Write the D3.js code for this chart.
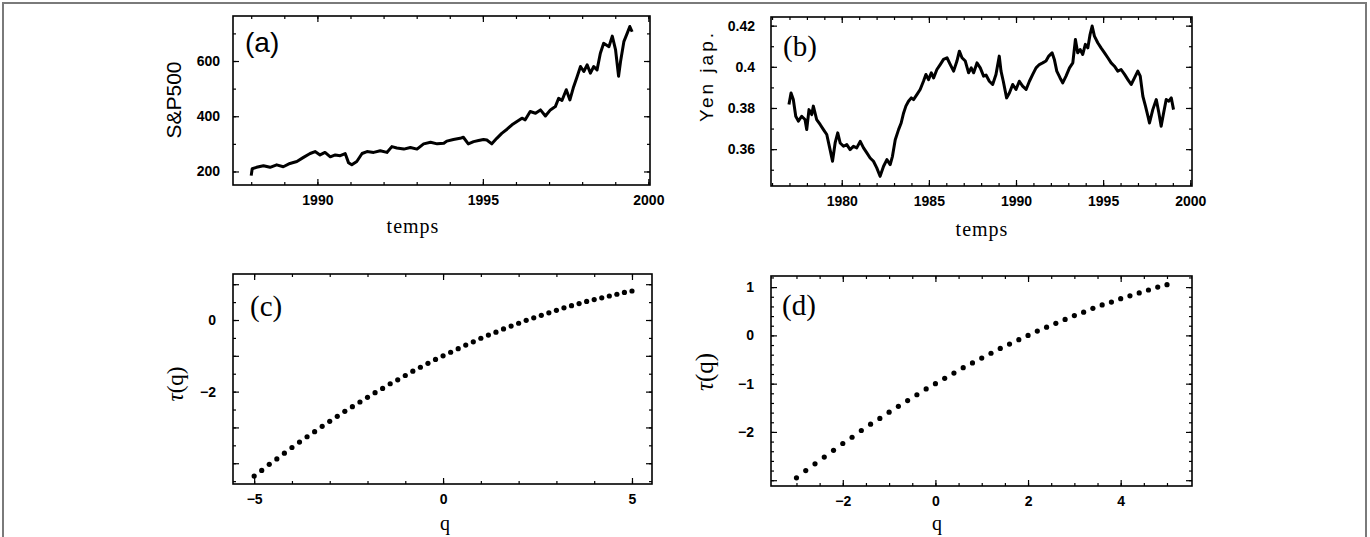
<!DOCTYPE html>
<html lang="fr">
<head>
	<meta charset="utf-8">
	<title>S&P500, Yen et tau(q)</title>
	<script src="https://cdn.jsdelivr.net/npm/d3@7/dist/d3.min.js"></script>
	<style>
		body { margin: 0; background: white; }
		svg { display: block; }
		.tick text { font-family: "Liberation Sans", Arial, sans-serif; font-weight: bold; font-size: 14px; fill: black; }
		.tick line { stroke: black; stroke-width: 1.2; }
		.serif { font-family: "Liberation Serif", "Times New Roman", serif; }
		.sans { font-family: "Liberation Sans", Arial, sans-serif; }
	</style>
</head>
<body>
<svg id="fig" width="1370" height="537"></svg>
<script>
// S&P500 (panel a)
var spYears = [1988.0, 1988.03, 1988.16, 1988.37, 1988.57, 1988.77, 1988.97, 1989.17, 1989.38, 1989.58, 1989.78, 1989.93,
	1990.08, 1990.23, 1990.39, 1990.54, 1990.69, 1990.84, 1990.94, 1991.04, 1991.19, 1991.35, 1991.5, 1991.7, 1991.9,
	1992.1, 1992.25, 1992.4, 1992.61, 1992.81, 1993.01, 1993.21, 1993.42, 1993.62, 1993.82, 1993.91, 1994.11, 1994.31,
	1994.41, 1994.56, 1994.72, 1994.87, 1995.02, 1995.12, 1995.27, 1995.42, 1995.57, 1995.73, 1995.88, 1996.03, 1996.18,
	1996.28, 1996.43, 1996.59, 1996.74, 1996.89, 1997.04, 1997.19, 1997.29, 1997.39, 1997.52, 1997.63, 1997.73, 1997.85,
	1997.95, 1998.05, 1998.15, 1998.25, 1998.35, 1998.45, 1998.55, 1998.65, 1998.81, 1998.91, 1999.01, 1999.1, 1999.16,
	1999.26, 1999.36, 1999.44, 1999.51]
var spValues = [185, 210, 215, 221, 215, 224, 217, 229, 236, 251, 265, 272,
	260, 269, 253, 260, 257, 265, 232, 224, 236, 265, 272, 269, 275,
	269, 290, 285, 281, 287, 281, 300, 306, 300, 302, 310, 316, 320,
	324, 300, 308, 312, 316, 314, 300, 320, 338, 353, 369, 381, 393,
	387, 417, 411, 423, 401, 423, 435, 465, 457, 496, 459, 502, 544,
	580, 562, 586, 556, 580, 568, 628, 664, 652, 690, 640, 545, 598,
	670, 700, 725, 706]

// Yen jap. (panel b)
var yenYears = [1976.97, 1977.09, 1977.22, 1977.36, 1977.51, 1977.7, 1977.89, 1977.99, 1978.12, 1978.28, 1978.37, 1978.56,
	1978.76, 1978.95, 1979.14, 1979.33, 1979.47, 1979.62, 1979.77, 1979.91, 1980.1, 1980.29, 1980.48, 1980.67, 1980.86,
	1981.06, 1981.25, 1981.44, 1981.63, 1981.82, 1982.01, 1982.2, 1982.4, 1982.59, 1982.78, 1982.91, 1983.07, 1983.26,
	1983.41, 1983.55, 1983.68, 1983.83, 1983.99, 1984.12, 1984.31, 1984.5, 1984.69, 1984.83, 1984.98, 1985.14, 1985.27,
	1985.46, 1985.65, 1985.84, 1986.04, 1986.23, 1986.42, 1986.61, 1986.75, 1986.9, 1987.09, 1987.28, 1987.43, 1987.57,
	1987.76, 1987.95, 1988.14, 1988.28, 1988.47, 1988.66, 1988.85, 1989.04, 1989.14, 1989.27, 1989.46, 1989.62, 1989.81,
	1990.0, 1990.19, 1990.38, 1990.58, 1990.77, 1990.96, 1991.15, 1991.34, 1991.53, 1991.72, 1991.88, 1992.07, 1992.2,
	1992.34, 1992.53, 1992.68, 1992.87, 1993.07, 1993.26, 1993.41, 1993.54, 1993.68, 1993.83, 1993.98, 1994.12, 1994.25,
	1994.37, 1994.5, 1994.69, 1994.88, 1995.08, 1995.27, 1995.46, 1995.65, 1995.84, 1996.03, 1996.23, 1996.42, 1996.61,
	1996.8, 1996.99, 1997.13, 1997.28, 1997.43, 1997.57, 1997.66, 1997.85, 1998.05, 1998.2, 1998.33, 1998.47, 1998.62,
	1998.77, 1998.91, 1999.04]
var yenValues = [0.3817, 0.3873, 0.3841, 0.376, 0.3736, 0.376, 0.3744, 0.3695, 0.3792, 0.3768, 0.3809, 0.3744,
	0.372, 0.3695, 0.3671, 0.3598, 0.3541, 0.363, 0.3679, 0.363, 0.3614, 0.3622, 0.3598, 0.3614, 0.3606,
	0.3638, 0.3606, 0.3582, 0.3557, 0.3541, 0.3509, 0.3468, 0.3517, 0.3549, 0.3525, 0.3565, 0.3646, 0.3695,
	0.3727, 0.3776, 0.3809, 0.3833, 0.3849, 0.3841, 0.3865, 0.389, 0.393, 0.3963, 0.3938, 0.3971, 0.3946,
	0.3987, 0.4011, 0.4036, 0.4044, 0.4011, 0.3979, 0.4028, 0.4076, 0.4044, 0.4028, 0.3971, 0.3995, 0.3971,
	0.4019, 0.3995, 0.3955, 0.396, 0.393, 0.3914, 0.3963, 0.4052, 0.3979, 0.393, 0.3849, 0.3873, 0.3914,
	0.389, 0.393, 0.3906, 0.389, 0.393, 0.3963, 0.3995, 0.4011, 0.4019, 0.4028, 0.4052, 0.4068, 0.4036,
	0.3979, 0.3946, 0.3922, 0.3955, 0.3995, 0.4019, 0.4133, 0.4068, 0.4084, 0.406, 0.4109, 0.4092, 0.4157,
	0.4198, 0.4149, 0.4117, 0.4092, 0.4068, 0.4044, 0.4019, 0.4003, 0.3979, 0.3987, 0.3963, 0.3938, 0.3914,
	0.3946, 0.3979, 0.3955, 0.3857, 0.3809, 0.376, 0.3727, 0.3792, 0.3841, 0.3776, 0.3711, 0.3776, 0.3841,
	0.3833, 0.3849, 0.3792]

// tau(q), panel c (S&P500)
var qC = [-5, -4.8, -4.6, -4.4, -4.2, -4, -3.8, -3.6, -3.4, -3.2, -3, -2.8, -2.6, -2.4, -2.2, -2, -1.8, -1.6, -1.4, -1.2,
	-1, -0.8, -0.6, -0.4, -0.2, 0, 0.2, 0.4, 0.6, 0.8, 1, 1.2, 1.4, 1.6, 1.8, 2, 2.2, 2.4, 2.6, 2.8, 3, 3.2, 3.4, 3.6,
	3.8, 4, 4.2, 4.4, 4.6, 4.8, 5]
var tauC = [-4.36, -4.20, -4.03, -3.88, -3.72, -3.56, -3.41, -3.26, -3.12, -2.97, -2.83, -2.69, -2.55, -2.42, -2.29,
	-2.16, -2.03, -1.91, -1.78, -1.67, -1.55, -1.43, -1.32, -1.21, -1.10, -1.00, -0.90, -0.80, -0.70, -0.61, -0.51,
	-0.42, -0.34, -0.25, -0.17, -0.09, -0.01, 0.06, 0.13, 0.20, 0.27, 0.34, 0.40, 0.46, 0.52, 0.57, 0.62, 0.67, 0.72,
	0.77, 0.81]

// tau(q), panel d (Yen)
var qD = [-3, -2.8, -2.6, -2.4, -2.2, -2, -1.8, -1.6, -1.4, -1.2, -1, -0.8, -0.6, -0.4, -0.2, 0, 0.2, 0.4, 0.6, 0.8,
	1, 1.2, 1.4, 1.6, 1.8, 2, 2.2, 2.4, 2.6, 2.8, 3, 3.2, 3.4, 3.6, 3.8, 4, 4.2, 4.4, 4.6, 4.8, 5]
var tauD = [-2.95, -2.80, -2.66, -2.52, -2.38, -2.24, -2.11, -1.97, -1.84, -1.72, -1.59, -1.47, -1.35, -1.23, -1.11,
	-1.00, -0.89, -0.78, -0.67, -0.57, -0.47, -0.37, -0.27, -0.18, -0.09, 0.00, 0.09, 0.17, 0.25, 0.33, 0.41, 0.48,
	0.56, 0.63, 0.69, 0.76, 0.82, 0.88, 0.94, 1.00, 1.05]

var svg = d3.select("#fig")

// grey frame round the whole figure
svg.append("rect").attr("x", 3).attr("y", 3).attr("width", 1363).attr("height", 560)
	.attr("fill", "none").attr("stroke", "#7a7a7a").attr("stroke-width", 2)

// one framed panel with ticks on all four sides
function panel(p) {
	var x = d3.scaleLinear().domain(p.xDom).range([p.x0, p.x1])
	var y = d3.scaleLinear().domain(p.yDom).range([p.y1, p.y0])
	var g = svg.append("g")

	function axis(maker, scale, vals, size, fmt, pos, isX, pad) {
		var a = maker(scale).tickValues(vals).tickSize(size).tickPadding(pad || 10)
		a.tickFormat(fmt ? fmt : function() { return "" })
		var ag = g.append("g").attr("transform", isX ? "translate(0," + pos + ")" : "translate(" + pos + ",0)").call(a)
		ag.select(".domain").remove()
		return ag
	}
	var xm = p.xMinor, ym = p.yMinor
	axis(d3.axisBottom, x, p.xMajor, -6, p.xFmt, p.y1, true, 10)
	axis(d3.axisBottom, x, xm, -3, null, p.y1, true)
	axis(d3.axisTop, x, p.xMajor, -6, null, p.y0, true)
	axis(d3.axisTop, x, xm, -3, null, p.y0, true)
	axis(d3.axisLeft, y, p.yMajor, -6, null, p.x0, false)
	axis(d3.axisLeft, y, ym, -3, null, p.x0, false)
	axis(d3.axisRight, y, p.yMajor, -6, null, p.x1, false)
	axis(d3.axisRight, y, ym, -3, null, p.x1, false)
	// labels of the y axis (sometimes only a subset)
	axis(d3.axisLeft, y, p.yLabelVals || p.yMajor, 0, p.yFmt, p.x0, false, p.pad)

	g.append("rect").attr("x", p.x0).attr("y", p.y0).attr("width", p.x1 - p.x0).attr("height", p.y1 - p.y0)
		.attr("fill", "none").attr("stroke", "black").attr("stroke-width", 1.6)
	return {x: x, y: y, g: g}
}

function range(a, b, s) {
	var out = []
	for (var i = 0; a + i * s <= b + 1e-9; i++) out.push(+(a + i * s).toFixed(4))
	return out
}

function tauLabel(x, y, size) {
	svg.append("text").attr("class", "serif").attr("transform", "translate(" + x + "," + y + ") rotate(-90)")
		.attr("text-anchor", "middle").attr("font-size", size)
		.call(function(t) {
			t.append("tspan").attr("font-style", "italic").text("τ")
			t.append("tspan").text("(q)")
		})
}

// ---- (a) S&P500
var pa = panel({x0: 233, x1: 650, y0: 16, y1: 185, xDom: [1987.45, 2000.05], yDom: [151, 763],
	xMajor: [1990, 1995, 2000], xMinor: range(1988, 2000, 1), yMajor: [200, 400, 600], yMinor: range(200, 700, 100),
	xFmt: d3.format("d"), yFmt: d3.format("d"), pad: 13})
pa.g.append("path")
	.datum(spYears.map(function(d, i) { return [d, spValues[i]] }))
	.attr("fill", "none").attr("stroke", "black").attr("stroke-width", 3).attr("stroke-linejoin", "round")
	.attr("d", d3.line().x(function(d) { return pa.x(d[0]) }).y(function(d) { return pa.y(d[1]) }))
svg.append("text").attr("class", "sans").attr("x", 245).attr("y", 52).attr("font-size", 28).text("(a)")
svg.append("text").attr("class", "sans").attr("transform", "translate(181,100) rotate(-90)")
	.attr("text-anchor", "middle").attr("font-size", 21).text("S&P500")
svg.append("text").attr("class", "serif").attr("x", 413).attr("y", 233).attr("text-anchor", "middle")
	.attr("font-size", 20).attr("letter-spacing", 1).text("temps")

// ---- (b) Yen
var pb = panel({x0: 771, x1: 1192, y0: 17, y1: 186, xDom: [1975.94, 2000.1], yDom: [0.3421, 0.4242],
	xMajor: [1980, 1985, 1990, 1995, 2000], xMinor: range(1976, 2000, 1), yMajor: [0.36, 0.38, 0.40, 0.42],
	yMinor: range(0.35, 0.42, 0.01), xFmt: d3.format("d"), yFmt: function(d) { return d == 0.4 ? "0.4" : d3.format(".2f")(d) }, pad: 16})
pb.g.append("path")
	.datum(yenYears.map(function(d, i) { return [d, yenValues[i]] }))
	.attr("fill", "none").attr("stroke", "black").attr("stroke-width", 3).attr("stroke-linejoin", "round")
	.attr("d", d3.line().x(function(d) { return pb.x(d[0]) }).y(function(d) { return pb.y(d[1]) }))
svg.append("text").attr("class", "serif").attr("x", 783).attr("y", 56).attr("font-size", 29).text("(b)")
svg.append("text").attr("class", "sans").attr("transform", "translate(713,76) rotate(-90)")
	.attr("text-anchor", "middle").attr("font-size", 19).attr("letter-spacing", 3).text("Yen jap.")
svg.append("text").attr("class", "serif").attr("x", 982).attr("y", 236).attr("text-anchor", "middle")
	.attr("font-size", 20).attr("letter-spacing", 1).text("temps")

// ---- (c) tau(q) S&P500
var pc = panel({x0: 233, x1: 652, y0: 274, y1: 484, xDom: [-5.56, 5.53], yDom: [-4.58, 1.285],
	xMajor: [-5, 0, 5], xMinor: range(-5, 5, 1), yMajor: [-4, -3, -2, -1, 0, 1], yMinor: range(-4.5, 1, 0.5),
	yLabelVals: [-2, 0], xFmt: d3.format("d"), yFmt: d3.format("d"), pad: 17})
pc.g.selectAll("circle").data(qC).enter().append("circle")
	.attr("cx", function(d) { return pc.x(d) }).attr("cy", function(d, i) { return pc.y(tauC[i]) })
	.attr("r", 2.6).attr("fill", "black")
svg.append("text").attr("class", "serif").attr("x", 250).attr("y", 316).attr("font-size", 29).text("(c)")
tauLabel(183, 384, 23)
svg.append("text").attr("class", "serif").attr("x", 445).attr("y", 530).attr("text-anchor", "middle")
	.attr("font-size", 20).text("q")

// ---- (d) tau(q) Yen
var pd = panel({x0: 771, x1: 1192, y0: 276, y1: 486, xDom: [-3.55, 5.54], yDom: [-3.12, 1.23],
	xMajor: [-2, 0, 2, 4], xMinor: range(-3, 5, 0.5), yMajor: [-3, -2, -1, 0, 1], yMinor: range(-3, 1.2, 0.2),
	yLabelVals: [-2, -1, 0, 1], xFmt: d3.format("d"), yFmt: d3.format("d"), pad: 17})
pd.g.selectAll("circle").data(qD).enter().append("circle")
	.attr("cx", function(d) { return pd.x(d) }).attr("cy", function(d, i) { return pd.y(tauD[i]) })
	.attr("r", 2.6).attr("fill", "black")
svg.append("text").attr("class", "serif").attr("x", 782).attr("y", 315).attr("font-size", 29).text("(d)")
tauLabel(713, 372, 25)
svg.append("text").attr("class", "serif").attr("x", 937).attr("y", 530).attr("text-anchor", "middle")
	.attr("font-size", 20).text("q")
</script>
</body>
</html>
